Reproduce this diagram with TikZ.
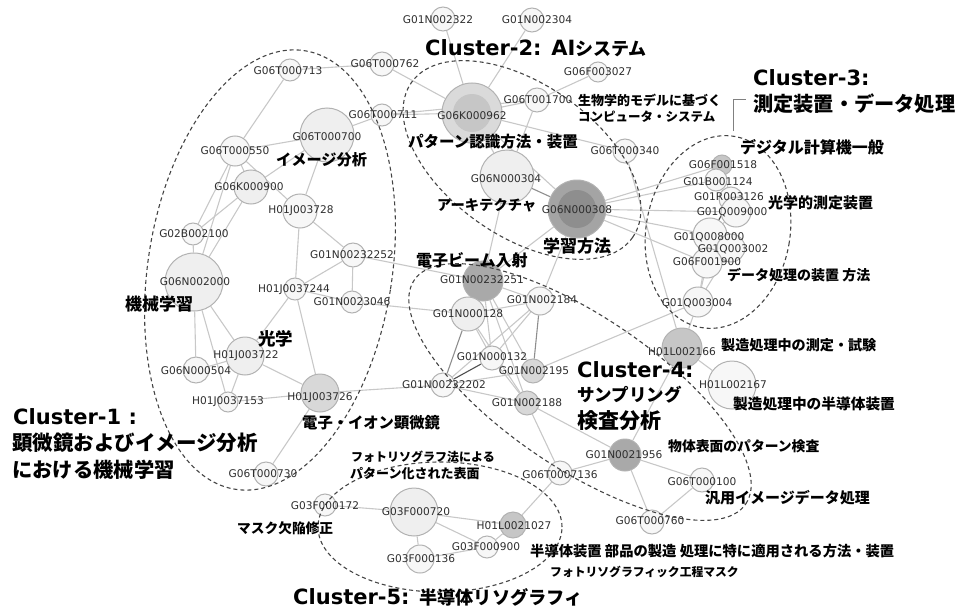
\documentclass[tikz,border=0pt]{standalone}
\usepackage{fontspec}
\setmainfont{DejaVu Sans}
\newfontfamily\jp{Noto Sans CJK JP}
\usetikzlibrary{backgrounds}
\definecolor{edgec}{HTML}{C8C8C8}
\definecolor{edged}{HTML}{8E8E8E}
\definecolor{edgek}{HTML}{4E4E4E}
\definecolor{nodeb}{HTML}{B2B2B2}
\definecolor{nodef}{HTML}{F7F7F7}
\definecolor{gla}{HTML}{EFEFEF}
\definecolor{gmid}{HTML}{D8D8D8}
\definecolor{gdk}{HTML}{A9A9A9}
\definecolor{gdo}{HTML}{A4A4A4}
\definecolor{gdi}{HTML}{8E8E8E}
\definecolor{gko}{HTML}{DADADA}
\definecolor{gki}{HTML}{C6C6C6}
\definecolor{clus}{HTML}{444444}
\definecolor{codec}{HTML}{2E2E2E}
\tikzset{
 nd/.style={circle, draw=nodeb, line width=1pt, fill=nodef, inner sep=0pt},
 inr/.style={circle, fill=#1, inner sep=0pt},
 cd/.style={font=\fontsize{10.6}{10.6}\selectfont, text=codec, inner sep=0pt},
 ed/.style={draw=edgec, line width=1.1pt},
 cl/.style={draw=clus, line width=1.1pt, dash pattern=on 4pt off 3pt},
 jl/.style={font=\jp\bfseries\fontsize{#1}{#1}\selectfont, anchor=west, inner sep=0pt},
 tt/.style={font=\bfseries\fontsize{21}{21}\selectfont, anchor=west, inner sep=0pt},
}
\begin{document}
\begin{tikzpicture}[x=1pt,y=-1pt]
\useasboundingbox (0,0) rectangle (956,610);
% ---------- nodes ----------
\node[nd,minimum size=24pt] (a2322) at (443,19) {};
\node[nd,minimum size=24pt] (a2304) at (532,20) {};
\node[nd,minimum size=22pt] (t713) at (290,70) {};
\node[nd,minimum size=24pt] (t762) at (382,64) {};
\node[nd,minimum size=20pt] (f3027) at (598,72) {};
\node[nd,minimum size=24pt] (t1700) at (537,100) {};
\node[nd,minimum size=22pt] (t711) at (382,115) {};
\node[nd,minimum size=60pt,fill=gko] (k962) at (472,113) {};
\node[inr=gki,minimum size=38pt] (k962i) at (472,113) {};
\node[nd,minimum size=54pt,fill=gla] (t700) at (327,135) {};
\node[nd,minimum size=30pt] (t550) at (235,151) {};
\node[nd,minimum size=34pt,fill=gla] (k900) at (251,187) {};
\node[nd,minimum size=24pt] (t340) at (625,151) {};
\node[nd,minimum size=54pt,fill=gla] (n304) at (507,177) {};
\node[nd,minimum size=58pt,fill=gdo] (n308) at (577,209) {};
\node[inr=gdi,minimum size=38pt] (n308i) at (577,209) {};
\node[nd,minimum size=34pt] (j3728) at (300,211) {};
\node[nd,minimum size=22pt] (b2100) at (193,234) {};
\node[nd,minimum size=24pt] (c252) at (353,255) {};
\node[nd,minimum size=58pt,fill=gla] (n2000) at (194,282) {};
\node[nd,minimum size=22pt] (j244) at (295,289) {};
\node[nd,minimum size=22pt] (c046) at (352,302) {};
\node[nd,minimum size=40pt,fill=gdk] (c251) at (483,281) {};
\node[nd,minimum size=28pt] (c184) at (540,301) {};
\node[nd,minimum size=34pt,fill=gla] (c128) at (468,314) {};
\node[nd,minimum size=24pt] (c132) at (492,358) {};
\node[nd,minimum size=24pt,fill=gmid] (c195) at (533,371) {};
\node[nd,minimum size=24pt] (c202) at (443,385) {};
\node[nd,minimum size=24pt,fill=gmid] (c188) at (527,403) {};
\node[nd,minimum size=38pt,fill=gla] (j3722) at (245,356) {};
\node[nd,minimum size=26pt] (n504) at (196,370) {};
\node[nd,minimum size=20pt] (j153) at (228,402) {};
\node[nd,minimum size=38pt,fill=gmid] (j3726) at (320,393) {};
\node[nd,minimum size=24pt] (t730) at (266,474) {};
\node[nd,minimum size=20pt,fill=gki] (f1518) at (722,165) {};
\node[nd,minimum size=22pt] (b1124) at (716,180) {};
\node[nd,minimum size=24pt] (r3126) at (731,199) {};
\node[nd,minimum size=30pt] (q9000) at (736,212) {};
\node[nd,minimum size=34pt] (q8000) at (710,235) {};
\node[nd,minimum size=28pt] (q3002) at (731,248) {};
\node[nd,minimum size=30pt] (f1900) at (707,263) {};
\node[nd,minimum size=30pt] (q3004) at (698,302) {};
\node[nd,minimum size=40pt,fill=gki] (l2166) at (682,348) {};
\node[nd,minimum size=48pt] (l2167) at (732,385) {};
\node[nd,minimum size=32pt,fill=gdk] (c956) at (625,455) {};
\node[nd,minimum size=24pt] (t100) at (702,480) {};
\node[nd,minimum size=24pt] (t760) at (652,522) {};
\node[nd,minimum size=24pt] (t136) at (560,473) {};
\node[nd,minimum size=22pt] (f172) at (325,505) {};
\node[nd,minimum size=48pt,fill=gla] (f720) at (414,512) {};
\node[nd,minimum size=26pt,fill=gki] (l027) at (513,525) {};
\node[nd,minimum size=22pt] (f900) at (487,547) {};
\node[nd,minimum size=28pt] (f136) at (420,559) {};
% ---------- edges ----------
\begin{scope}[on background layer]
\foreach \a/\b in {t713/t550,t713/t762,t762/k962,t700/t711,t711/t1700,t711/k962,t700/t550,
 t550/k900,t550/b2100,t550/n2000,k900/t700,t550/j3728,k900/b2100,k900/n2000,t700/j3728,
 j3728/c252,j3728/j244,c252/j244,c252/c046,c252/c251,c046/c128,j244/c046,b2100/n2000,
 n2000/n504,n2000/j3722,n2000/j153,j244/j3722,j244/j3726,j3722/n504,j3722/j153,j3722/j3726,
 j153/j3726,j3726/t730,j3726/c202,
 a2322/k962,a2304/k962,f3027/t1700,t1700/k962,t1700/n304,k962/t340,k962/n304,k962/n308,
 n304/c251,t340/l2166,n308/f1518,n308/b1124,n308/q9000,n308/q8000,n308/f1900,n308/c184,n308/c251,
 f1518/r3126,b1124/q9000,q9000/q8000,q8000/q3002,q8000/f1900,q3002/f1900,f1900/q3004,
 q8000/q3004,q3002/q3004,q3004/l2166,c195/q3004,l2166/l2167,c956/l2166,
 c251/c128,c251/c184,c251/c132,c251/c195,c251/c188,c128/c184,c128/c132,c128/c188,
 c184/c132,c184/c202,c132/c188,c202/c195,c202/c188,c188/t136,c188/c956,c956/t136,
 c956/t100,c956/t760,t100/t760,t136/l027,
 f172/f720,f720/f136,f720/l027,f720/f900,f136/f900,f900/l027}
 \draw[ed] (\a) -- (\b);
\draw[ed,draw=edged] (n304) -- (n308);
\draw[ed,draw=edged] (c128) -- (c202);
\draw[ed,draw=edgek] (c132) -- (c202);
\draw[ed,draw=edged] (c184) -- (c195);
\draw[ed,draw=edgek] (r3126) -- (q8000);
\end{scope}
% ---------- clusters ----------
\draw[cl,rotate around={-9:(270,270)}] (270,270) ellipse [x radius=122pt, y radius=222pt];
\draw[cl,rotate around={-35:(522,160)}] (522,160) ellipse [x radius=135pt, y radius=76pt];
\draw[cl,rotate around={-10:(718,232)}] (718,232) ellipse [x radius=72pt, y radius=97pt];
\draw[cl,rotate around={-34:(580,392)}] (580,392) ellipse [x radius=200pt, y radius=76pt];
\draw[cl] (440,527) ellipse [x radius=122pt, y radius=65pt];
\coordinate (brA) at (733,131);
\coordinate (brB) at (733,99);
\coordinate (brC) at (746,99);
\draw[draw=gray, line width=1pt] (brA) -- (brB) -- (brC);
% ---------- code labels ----------
\node[cd] (la2322) at (438,20) {G01N002322};
\node[cd] (la2304) at (537,20) {G01N002304};
\node[cd] (lt713) at (288,71) {G06T000713};
\node[cd] (lt762) at (385,64) {G06T000762};
\node[cd] (lf3027) at (598,72) {G06F003027};
\node[cd] (lt1700) at (538,100) {G06T001700};
\node[cd] (lt711) at (383,115) {G06T000711};
\node[cd] (lk962) at (472,116) {G06K000962};
\node[cd] (lt700) at (327,137) {G06T000700};
\node[cd] (lt550) at (235,151) {G06T000550};
\node[cd] (lk900) at (249,187) {G06K000900};
\node[cd] (lt340) at (625,151) {G06T000340};
\node[cd] (ln304) at (506,179) {G06N000304};
\node[cd] (ln308) at (577,210) {G06N000308};
\node[cd] (lj3728) at (301,211) {H01J003728};
\node[cd] (lb2100) at (194,234) {G02B002100};
\node[cd] (lc252) at (352,255) {G01N00232252};
\node[cd] (ln2000) at (195,282) {G06N002000};
\node[cd] (lj244) at (294,290) {H01J0037244};
\node[cd] (lc046) at (352,302) {G01N0023046};
\node[cd] (lc251) at (482,280) {G01N00232251};
\node[cd] (lc184) at (542,300) {G01N002184};
\node[cd] (lc128) at (468,314) {G01N000128};
\node[cd] (lc132) at (492,357) {G01N000132};
\node[cd] (lc195) at (534,371) {G01N002195};
\node[cd] (lc202) at (444,385) {G01N00232202};
\node[cd] (lc188) at (527,403) {G01N002188};
\node[cd] (lj3722) at (246,356) {H01J003722};
\node[cd] (ln504) at (196,371) {G06N000504};
\node[cd] (lj153) at (228,402) {H01J0037153};
\node[cd] (lj3726) at (320,398) {H01J003726};
\node[cd] (lt730) at (263,474) {G06T000730};
\node[cd] (lf1518) at (723,165) {G06F001518};
\node[cd] (lb1124) at (718,182) {G01B001124};
\node[cd] (lr3126) at (729,197) {G01R003126};
\node[cd] (lq9000) at (732,212) {G01Q009000};
\node[cd] (lq8000) at (709,237) {G01Q008000};
\node[cd] (lq3002) at (733,249) {G01Q003002};
\node[cd] (lf1900) at (707,262) {G06F001900};
\node[cd] (lq3004) at (697,303) {G01Q003004};
\node[cd] (ll2166) at (682,352) {H01L002166};
\node[cd] (ll2167) at (733,385) {H01L002167};
\node[cd] (lc956) at (624,455) {G01N0021956};
\node[cd] (lt100) at (702,482) {G06T000100};
\node[cd] (lt760) at (650,521) {G06T000760};
\node[cd] (lt136) at (560,475) {G06T0007136};
\node[cd] (lf172) at (325,506) {G03F000172};
\node[cd] (lf720) at (416,512) {G03F000720};
\node[cd] (ll027) at (514,526) {H01L0021027};
\node[cd] (lf900) at (486,547) {G03F000900};
\node[cd] (lf136) at (421,559) {G03F000136};
% ---------- Japanese labels ----------
\node[jl=15.5] (j1) at (408,142) {パターン認識方法・装置};
\node[jl=15.2] (j2) at (276,160) {イメージ分析};
\node[jl=13] (j3) at (578,100) {生物学的モデルに基づく};
\node[jl=12.5] (j4) at (578,117) {コンピュータ・システム};
\node[jl=16] (j5) at (740,147) {デジタル計算機一般};
\node[jl=15] (j6) at (768,203) {光学的測定装置};
\node[jl=14.3] (j7) at (437,205) {アーキテクチャ};
\node[jl=17] (j8) at (543,246) {学習方法};
\node[jl=16] (j9) at (416,260) {電子ビーム入射};
\node[jl=14] (j10) at (727,275) {データ処理の装置 方法};
\node[jl=17] (j11) at (125,304) {機械学習};
\node[jl=17.5] (j12) at (258,339) {光学};
\node[jl=14.1] (j13) at (721,345) {製造処理中の測定・試験};
\node[jl=14.7] (j14) at (733,404) {製造処理中の半導体装置};
\node[jl=15.3] (j15) at (302,423) {電子・イオン顕微鏡};
\node[jl=13.8] (j16) at (668,446) {物体表面のパターン検査};
\node[jl=12] (j17) at (351,457) {フォトリソグラフ法による};
\node[jl=13] (j18) at (350,474) {パターン化された表面};
\node[jl=15] (j19) at (705,498) {汎用イメージデータ処理};
\node[jl=13.7] (j20) at (237,528) {マスク欠陥修正};
\node[jl=14.3] (j21) at (530,551) {半導体装置 部品の製造 処理に特に適用される方法・装置};
\node[jl=11.8] (j22) at (550,572) {フォトリソグラフィック工程マスク};
% ---------- cluster titles ----------
\node[tt] (c2t) at (425,48) {Cluster-2: AI{\jp\fontsize{18}{18}\selectfont システム}};
\node[tt] (c3t) at (753,78) {Cluster-3:};
\node[jl=20.2] (c3j) at (753,104) {測定装置・データ処理};
\node[tt] (c4t) at (577,370) {Cluster-4:};
\node[jl=17.5] (c4j) at (577,395) {サンプリング};
\node[jl=21] (c4k) at (577,421) {検査分析};
\node[tt] (c1t) at (13,417) {Cluster-1 :};
\node[jl=20.5] (c1j) at (12,443) {顕微鏡およびイメージ分析};
\node[jl=20.3] (c1k) at (12,470) {における機械学習};
\node[tt] (c5t) at (293,597) {Cluster-5: {\jp\fontsize{18.2}{18.2}\selectfont 半導体リソグラフィ}};
\end{tikzpicture}
\end{document}
